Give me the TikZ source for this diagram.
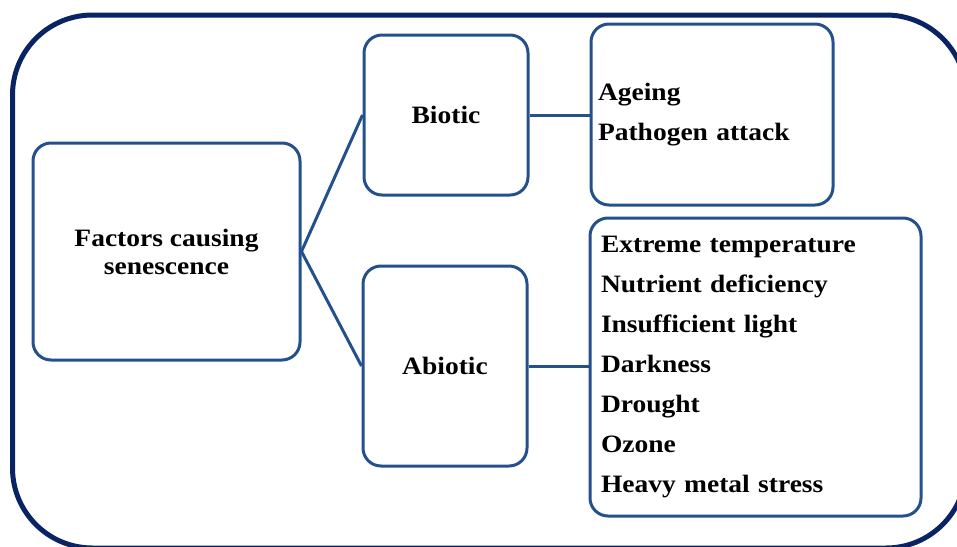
\documentclass[tikz,border=0pt]{standalone}
\usepackage{fontspec}
\setmainfont{Liberation Serif}[FakeStretch=1.1]
\usepackage{xcolor}
\definecolor{framenavy}{HTML}{0A2463}
\definecolor{boxblue}{HTML}{24508C}

\tikzset{
  cause box/.style={draw=boxblue, line width=\boxlinewidth, rounded corners=\boxradius,
    font=\bfseries\fontsize{25}{28}\selectfont, align=center},
  list box/.style={cause box, align=left, font=\bfseries\fontsize{25}{40}\selectfont},
  branch line/.style={draw=boxblue, line width=\boxlinewidth}
}

\begin{document}
\begin{tikzpicture}[x=1pt, y=-1pt]
\pgfmathsetmacro{\framelinewidth}{5}
\pgfmathsetmacro{\boxlinewidth}{3}
\pgfmathsetmacro{\frameradius}{80}
\pgfmathsetmacro{\boxradius}{18}

\useasboundingbox (0,0) rectangle (957,546);
\clip (0,0) rectangle (957,546);

\draw [framenavy, line width=\framelinewidth, rounded corners=\frameradius] (12.5,15) rectangle (966,548);

\node [cause box, minimum width=267, minimum height=217] (factors) at (166.5,251.5) {Factors causing\\senescence};
\node [cause box, minimum width=164, minimum height=160] (biotic) at (446,115) {Biotic};
\node [cause box, minimum width=164, minimum height=200] (abiotic) at (445,366) {Abiotic};
\node [list box, minimum width=242, minimum height=181, inner xsep=7, text width=228] (biotic_list) at (712,114.5) {Ageing\\Pathogen attack};
\node [list box, minimum width=331, minimum height=298, inner xsep=11, text width=309] (abiotic_list) at (755.5,367)
  {Extreme temperature\\Nutrient deficiency\\Insufficient light\\Darkness\\Drought\\Ozone\\Heavy metal stress};

\draw [branch line] (biotic.west) -- (factors.east) -- (abiotic.west);
\draw [branch line] (biotic.east) -- (biotic.east -| biotic_list.west);
\draw [branch line] (abiotic.east) -- (abiotic.east -| abiotic_list.west);
\end{tikzpicture}
\end{document}
